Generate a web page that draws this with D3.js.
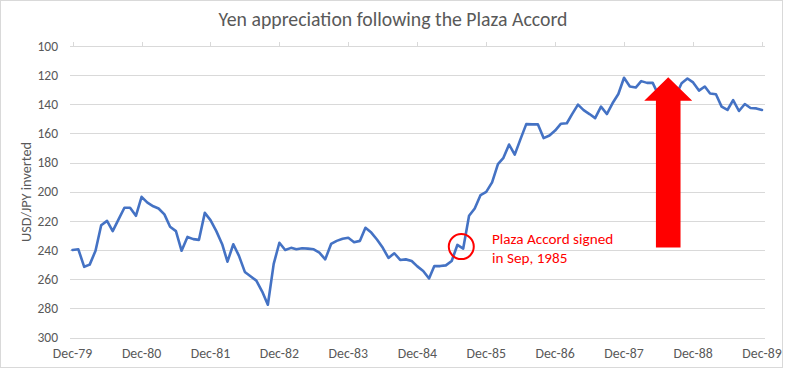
<!DOCTYPE html>
<html>
<head>
<meta charset="utf-8">
<script src="https://cdn.jsdelivr.net/npm/d3@7"></script>
<style>
  html, body { margin: 0; padding: 0; background: #fff; }
  svg { display: block; }
  text { font-family: Carlito, Calibri, Lato, "Open Sans", sans-serif; }
</style>
</head>
<body>
<svg id="chart" width="785" height="370"></svg>
<script>
// ---- Data (monthly USD/JPY, Dec-1979 .. Dec-1989) ----
const startYear = 1979;   // first category: December 1979
const startMonth = 11;    // 0-based month index (December)
const values1980s = [
  240, 239.5, 251.5, 250, 240.5, 223, 220, 227, 219, 211, 211, 216.5,        // Dec-79 .. Nov-80
  203.5, 207.5, 210, 211.5, 215.5, 224, 227, 240.5, 231, 232.5, 233, 214.5,   // Dec-80 .. Nov-81
  219.5, 227, 236, 248, 236, 244, 255, 258, 261, 268.5, 277.5, 249.5,         // Dec-81 .. Nov-82
  235, 240, 238.5, 239.5, 238.8, 239, 239.5, 241.8, 246.4, 235.8, 233.7, 232.3, // Dec-82 .. Nov-83
  231.6, 234.6, 233.7, 224.7, 228, 232.8, 238.5, 245.4, 242.2, 246.8, 246.4, 247.5, // Dec-83 .. Nov-84
  251.2, 254.4, 259.5, 251, 251, 250.5, 247.5, 236.5, 239, 216.5, 211.5, 202.3, // Dec-84 .. Nov-85
  200.1, 193.6, 181, 177, 167.6, 174.5, 163.7, 153.6, 153.8, 153.8, 163.2, 161.4, // Dec-85 .. Nov-86
  158, 153.3, 153, 146.7, 140.2, 144, 146.7, 149.5, 141.6, 146.7, 139.3, 132.9, // Dec-86 .. Nov-87
  121.8, 127.8, 128.5, 124.1, 125.3, 125.3, 133.8, 133.3, 136.6, 134, 125.5, 122.3, // Dec-87 .. Nov-88
  125, 130.6, 127.8, 132.6, 133.1, 141.6, 143.9, 137.2, 144.6, 139.8, 142.5, 142.8, // Dec-88 .. Nov-89
  143.9                                                                        // Dec-89
];
const xTickLabels = ["Dec-79","Dec-80","Dec-81","Dec-82","Dec-83","Dec-84","Dec-85","Dec-86","Dec-87","Dec-88","Dec-89"];
const yTicks = [100, 120, 140, 160, 180, 200, 220, 240, 260, 280, 300];
const titleText = "Yen appreciation following the Plaza Accord";
const yAxisTitle = "USD/JPY inverted";
const annotationLines = ["Plaza Accord signed", "in Sep, 1985"];
const annotationMonth = ["1985-07", "1985-08"]; // the circled bump
const arrowSpan = { fromValue: 237.5, toValue: 121.5, month: "1988-07" };

// ---- Build series ----
const data = values1980s.map((v, i) => ({ date: new Date(startYear, startMonth + i, 1), value: v }));
const tickDates = xTickLabels.map((_, i) => new Date(startYear + i, startMonth, 1));

const svg = d3.select("#chart");
const gray = "#595959", grid = "#d9d9d9";

// chart border
svg.append("rect").attr("x", 0.5).attr("y", 0.5).attr("width", 782).attr("height", 367)
  .attr("fill", "#fff").attr("stroke", grid).attr("stroke-width", 1);

const x = d3.scaleTime().domain([data[0].date, data[data.length - 1].date]).range([72.5, 762]);
const y = d3.scaleLinear().domain([100, 300]).range([46, 337.5]); // inverted axis

// gridlines
svg.append("g").selectAll("line").data(yTicks).join("line")
  .attr("x1", 70).attr("x2", 765)
  .attr("y1", d => Math.round(y(d)) + 0.5).attr("y2", d => Math.round(y(d)) + 0.5)
  .attr("stroke", grid).attr("stroke-width", 1);

// y-axis labels
svg.append("g").selectAll("text").data(yTicks).join("text")
  .attr("x", 58).attr("y", d => y(d)).attr("dy", "0.35em")
  .attr("text-anchor", "end").attr("fill", gray).attr("font-size", 13.5)
  .text(d => d);

// x axis tick marks at the top (axis crosses at 100 since values are reversed)
svg.append("g").selectAll("line").data(tickDates).join("line")
  .attr("x1", d => Math.round(x(d)) + 0.5).attr("x2", d => Math.round(x(d)) + 0.5)
  .attr("y1", Math.round(y(100)) - 4).attr("y2", Math.round(y(100)) + 0.5)
  .attr("stroke", grid).attr("stroke-width", 1);

// x labels at the bottom
svg.append("g").selectAll("text").data(tickDates).join("text")
  .attr("x", d => x(d)).attr("y", 358)
  .attr("text-anchor", "middle").attr("fill", gray).attr("font-size", 13.8)
  .text((d, i) => xTickLabels[i]);

// title
svg.append("text").attr("x", 393).attr("y", 26).attr("text-anchor", "middle")
  .attr("fill", gray).attr("font-size", 19.8).text(titleText);

// y axis title
svg.append("text").attr("transform", `translate(31,192) rotate(-90)`)
  .attr("text-anchor", "middle").attr("fill", gray).attr("font-size", 14.3)
  .text(yAxisTitle);

// line
const line = d3.line().x(d => x(d.date)).y(d => y(d.value));
svg.append("path").datum(data).attr("d", line)
  .attr("fill", "none").attr("stroke", "#4472C4").attr("stroke-width", 2.6)
  .attr("stroke-linejoin", "round").attr("stroke-linecap", "round");

// annotation circle around the Jul/Aug-1985 bump
const parseM = d3.timeParse("%Y-%m");
const cx = (x(parseM(annotationMonth[0])) + x(parseM(annotationMonth[1]))) / 2 + 1;
const cy = y(239) - 2;
svg.append("circle").attr("cx", cx).attr("cy", cy).attr("r", 12.5)
  .attr("fill", "none").attr("stroke", "#ff0000").attr("stroke-width", 2);

svg.append("g").selectAll("text").data(annotationLines).join("text")
  .attr("x", 492).attr("y", (d, i) => 244 + i * 18.5)
  .attr("fill", "#ff0000").attr("font-size", 15.2).text(d => d);

// big red arrow (upward)
const ax = x(parseM(arrowSpan.month)) + 4;
const yTip = y(arrowSpan.toValue), yBottom = y(arrowSpan.fromValue) + 1;
const headBase = yTip + 23.5, halfHead = 24, halfShaft = 12.3;
svg.append("path")
  .attr("d", `M${ax},${yTip} L${ax + halfHead},${headBase} L${ax + halfShaft},${headBase} L${ax + halfShaft},${yBottom} L${ax - halfShaft},${yBottom} L${ax - halfShaft},${headBase} L${ax - halfHead},${headBase} Z`)
  .attr("fill", "#ff0000");
</script>
</body>
</html>
